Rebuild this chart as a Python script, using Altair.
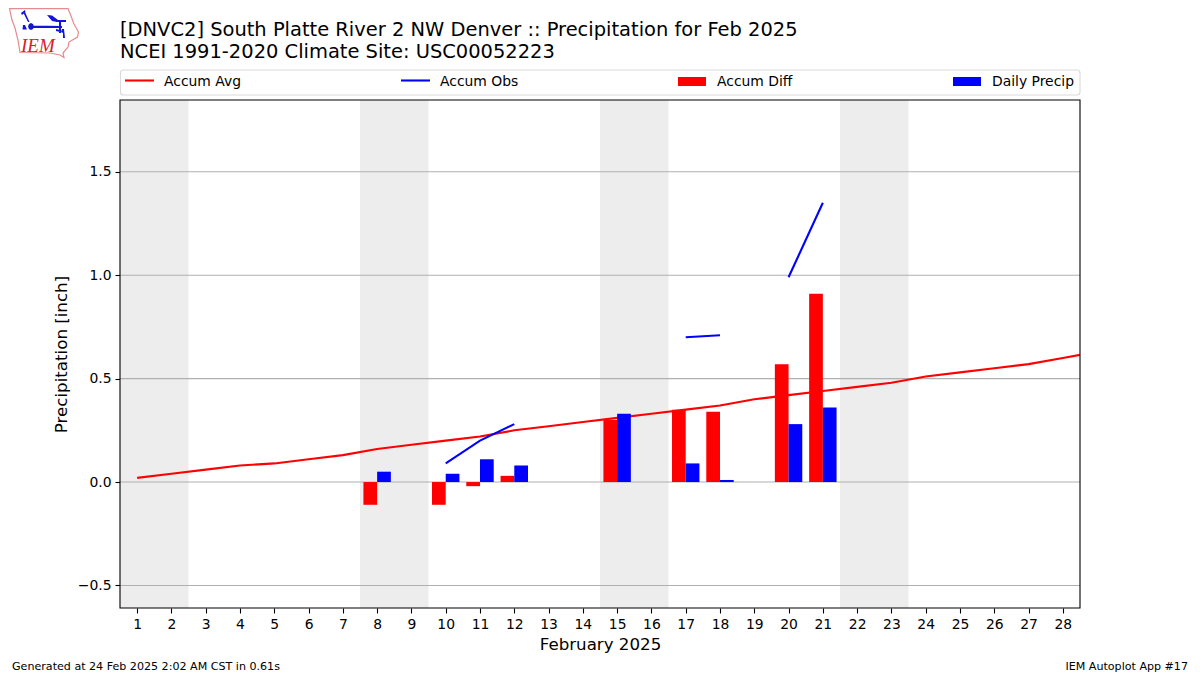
import altair as alt
import pandas as pd

FONT = "DejaVu Sans"
W, H = 960, 508
LEFT, TOP = 120, 100

days = list(range(1, 29))
avg_days = days + [29]
accum_avg = [0.02, 0.04, 0.06, 0.08, 0.09, 0.11, 0.13, 0.16, 0.18, 0.20, 0.22, 0.25, 0.27, 0.29,
             0.31, 0.33, 0.35, 0.37, 0.40, 0.42, 0.44, 0.46, 0.48, 0.51, 0.53, 0.55, 0.57, 0.60, 0.63]
obs_days = [10, 11, 12, 17, 18, 20, 21]
obs_seg = [1, 1, 1, 2, 2, 3, 3]
accum_obs = [0.09, 0.20, 0.28, 0.70, 0.71, 0.99, 1.35]
bar_days = [8, 10, 11, 12, 15, 17, 18, 20, 21]
accum_diff = [-0.11, -0.11, -0.02, 0.03, 0.30, 0.35, 0.34, 0.57, 0.91]
daily_precip = [0.05, 0.04, 0.11, 0.08, 0.33, 0.09, 0.01, 0.28, 0.36]
weekend_start = [0.5, 7.5, 14.5, 21.5]
weekend_end = [2.5, 9.5, 16.5, 23.5]
y_ticks = [-0.5, 0.0, 0.5, 1.0, 1.5]

xs = alt.Scale(domain=[0.5, 28.5], nice=False, zero=False)
ys = alt.Scale(domain=[-0.609, 1.847], nice=False, zero=False)

x_axis = alt.Axis(values=days, format="d", title="February 2025", grid=False, domain=False,
                  labelFontSize=13.9, labelFont=FONT, labelColor="black", labelPadding=4, labelFlush=False,
                  labelOverlap=False, labelBound=False, tickColor="black", tickSize=5, tickWidth=1.1,
                  titleFontSize=16.67, titleFont=FONT, titleFontWeight="normal", titleColor="black", titlePadding=6)
y_axis = alt.Axis(values=y_ticks, format=".1f", title="Precipitation [inch]", grid=False, domain=False,
                  labelFontSize=13.9, labelFont=FONT, labelColor="black", labelPadding=4,
                  tickColor="black", tickSize=5, tickWidth=1.1,
                  titleFontSize=16.67, titleFont=FONT, titleFontWeight="normal", titleColor="black", titlePadding=7)

shade_df = pd.DataFrame({"a": weekend_start, "b": weekend_end})
grid_df = pd.DataFrame({"v": y_ticks})
avg_df = pd.DataFrame({"d": avg_days, "v": accum_avg})
obs_df = pd.DataFrame({"d": obs_days, "v": accum_obs, "s": obs_seg})
bar_df = pd.DataFrame({"d": bar_days, "diff": accum_diff, "daily": daily_precip})
bar_df["red0"] = bar_df["d"] - 0.4
bar_df["blue1"] = bar_df["d"] + 0.4
bar_df["zero"] = 0.0

X = lambda f: alt.X(f, scale=xs, axis=x_axis)
Y = lambda f: alt.Y(f, scale=ys, axis=y_axis)

shade = alt.Chart(shade_df).mark_rect(color="#ededed").encode(x=X("a:Q"), x2="b:Q")
grid = alt.Chart(grid_df).mark_rule(color="#b0b0b0", strokeWidth=1.1).encode(y=Y("v:Q"))
avg_line = alt.Chart(avg_df).mark_line(color="#ff0000", strokeWidth=2.1, clip=True).encode(x=X("d:Q"), y=Y("v:Q"))
obs_line = alt.Chart(obs_df).mark_line(color="#0000ff", strokeWidth=2.1, clip=True).encode(
    x=X("d:Q"), y=Y("v:Q"), detail="s:N")
red_bars = alt.Chart(bar_df).mark_rect(color="#ff0000").encode(x=X("red0:Q"), x2="d:Q", y=Y("zero:Q"), y2="diff:Q")
blue_bars = alt.Chart(bar_df).mark_rect(color="#0000ff").encode(x=X("d:Q"), x2="blue1:Q", y=Y("zero:Q"), y2="daily:Q")

one = alt.Data(values=[{"k": 1}])


def px(v):
    return alt.value(v - LEFT)


def py(v):
    return alt.value(v - TOP)


def label(text, x, y, size=13.9, align="left", font=FONT, color="black", style=None):
    kw = {"fontStyle": style} if style else {}
    return alt.Chart(one).mark_text(text=text, fontSize=size, font=font, align=align, baseline="alphabetic",
                                    color=color, **kw).encode(x=px(x), y=py(y))


frame = alt.Chart(one).mark_rect(fill=None, stroke="black", strokeWidth=1.1).encode(
    x=alt.value(0), x2=alt.value(W), y=alt.value(0), y2=alt.value(H))
legend_box = alt.Chart(one).mark_rect(fill="white", stroke="#d9d9d9", strokeWidth=1.1, cornerRadius=3).encode(
    x=px(120.5), x2=px(1080), y=py(70), y2=py(95))


def leg_line(x0, color):
    return alt.Chart(one).mark_rule(color=color, strokeWidth=2.1).encode(
        x=px(x0), x2=px(x0 + 29), y=py(80.5))


def leg_patch(x0, color):
    return alt.Chart(one).mark_rect(color=color).encode(
        x=px(x0), x2=px(x0 + 28), y=py(77), y2=py(86))


legend = [legend_box,
          leg_line(125, "#ff0000"), label("Accum Avg", 164, 86),
          leg_line(401, "#0000ff"), label("Accum Obs", 440, 86),
          leg_patch(678, "#ff0000"), label("Accum Diff", 717, 86),
          leg_patch(953, "#0000ff"), label("Daily Precip", 992, 86)]

texts = [label("[DNVC2] South Platte River 2 NW Denver :: Precipitation for Feb 2025", 120, 36, size=19.47),
         label("NCEI 1991-2020 Climate Site: USC00052223", 120, 58, size=19.47),
         label("Generated at 24 Feb 2025 2:02 AM CST in 0.61s", 12, 670, size=11.1),
         label("IEM Autoplot App #17", 1188, 670, size=11.1, align="right")]

# IEM logo, drawn as decoration: pixel outlines normalised to the symbol's [-1, 1] box
LOGO_CX, LOGO_CY, LOGO_R = 44.0, 32.0, 35.0
iowa_outline = [(9.5, 8.6), (68, 8.6), (71, 16), (74, 24), (78.5, 32), (77.5, 37), (69, 42), (68, 47),
                (63, 53), (64, 57.5), (60, 55), (50, 53), (20, 52.5), (18, 40), (15, 28), (12, 20)]
blue_shapes = [
    [(32, 25.5), (62, 26), (62, 28), (32, 28)],
    [(28, 26.5), (29, 24), (31, 23), (33, 24), (34, 26.5), (33, 29), (31, 30), (29, 29)],
    [(47, 15), (52, 15.5), (58, 20), (66, 20), (66, 22), (57, 22), (52, 21)],
    [(59, 22), (61, 22), (61, 33), (59, 33)],
    [(56, 29), (60, 30), (60, 32), (56, 31)],
    [(62, 29), (64, 29), (65, 38), (63, 38), (63, 33), (61, 32)],
    [(23, 12), (25, 12), (29.5, 22), (28, 22)],
    [(21, 13), (25, 10), (25.5, 12), (22, 15)],
    [(23, 25), (25, 25), (27, 29.5), (22.5, 29.5)],
]


def to_path(points):
    return "M" + "L".join(f"{(x - LOGO_CX) / LOGO_R:.3f},{(y - LOGO_CY) / LOGO_R:.3f}" for x, y in points) + "Z"


logo_size = (2 * LOGO_R) ** 2
iowa = alt.Chart(one).mark_point(shape=to_path(iowa_outline), size=logo_size, filled=False,
                                 stroke="#e58a8f", strokeWidth=1.2, opacity=1).encode(
    x=px(LOGO_CX), y=py(LOGO_CY))
birds = alt.Chart(one).mark_point(shape="".join(to_path(s) for s in blue_shapes), size=logo_size, filled=True,
                                  fill="#1414d2", strokeWidth=0, opacity=1).encode(
    x=px(LOGO_CX), y=py(LOGO_CY))
iem = label("IEM", 21, 52, size=19, font="Liberation Serif", color="#d8202c", style="italic")

chart = alt.layer(
    shade, grid, avg_line, obs_line, red_bars, blue_bars, frame,
    *legend, *texts, iowa, birds, iem,
).properties(
    width=W, height=H,
    autosize=alt.AutoSizeParams(type="none"),
    padding={"left": LEFT - 8, "top": TOP - 8, "right": 112, "bottom": 65},
    background="white",
).configure_view(stroke=None)

chart.save("out.html", embed_options={"renderer": "svg", "actions": False})
